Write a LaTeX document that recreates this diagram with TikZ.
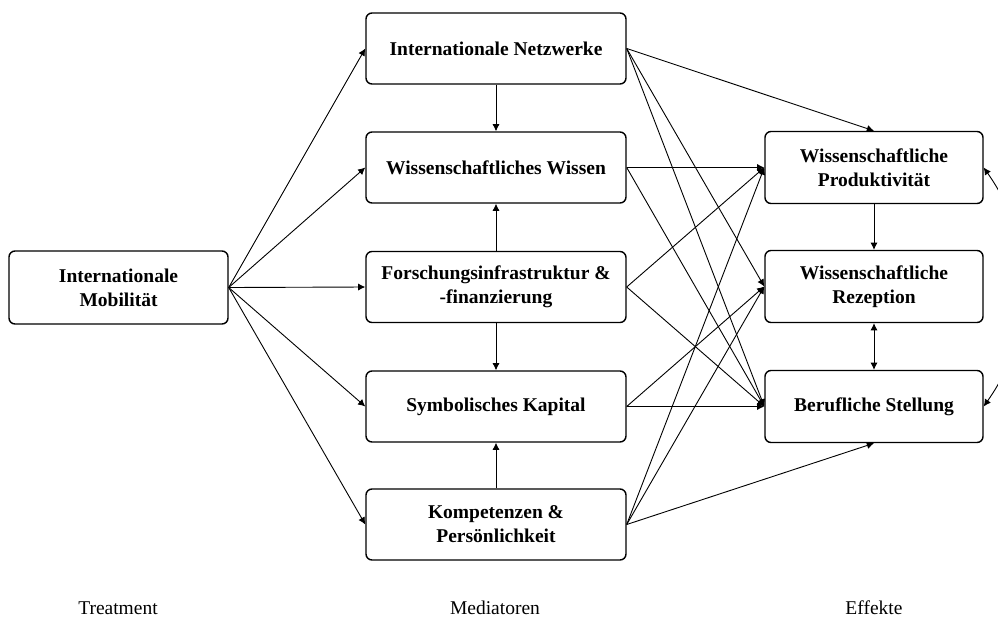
\documentclass[tikz,border=0pt]{standalone}
\usepackage{fontspec}
\setmainfont{Liberation Serif}
\usetikzlibrary{arrows.meta}

\tikzset{
  caja/.style={draw, line width=0.7pt, rounded corners=3pt, align=center,
    inner sep=2pt, font=\fontsize{9.75}{12}\selectfont\bfseries},
  medio/.style={caja, minimum width=130pt, minimum height=35.5pt},
  efecto/.style={caja, minimum width=109pt, minimum height=36pt},
  etiqueta/.style={anchor=base, inner sep=0pt, font=\fontsize{9.75}{12}\selectfont},
  flecha/.style={-{Latex[length=3.6pt,width=3.6pt]}, line width=0.45pt},
  doble/.style={{Latex[length=3.6pt,width=3.6pt]}-{Latex[length=3.6pt,width=3.6pt]}, line width=0.45pt}
}

\begin{document}
\begin{tikzpicture}[x=0.5pt,y=-0.5pt]
\useasboundingbox (0,0) rectangle (998,617);

% Tratamiento
\node[caja, minimum width=109.5pt, minimum height=36.5pt] (mob) at (118.5,287.5) {Internationale\\Mobilität};

% Mediadores, columna del centro
\node[medio] (netz) at (496,48.5) {Internationale Netzwerke};
\node[medio] (wissen) at (496,167.5) {Wissenschaftliches Wissen};
\node[medio] (infra) at (496,287) {Forschungsinfrastruktur \&\\-finanzierung};
\node[medio] (kapital) at (496,406.5) {Symbolisches Kapital};
\node[medio] (kompetenz) at (496,524.5) {Kompetenzen \&\\Persönlichkeit};

% Efectos, columna de la derecha
\node[efecto] (prod) at (874,167.5) {Wissenschaftliche\\Produktivität};
\node[efecto] (rez) at (874,286.5) {Wissenschaftliche\\Rezeption};
\node[efecto] (stellung) at (874,406.5) {Berufliche Stellung};

% Etiquetas de abajo
\node[etiqueta] (treat) at (118,614) {Treatment};
\node[etiqueta] (med) at (495,614) {Mediatoren};
\node[etiqueta] (eff) at (874,614) {Effekte};

% Del tratamiento a los mediadores
\foreach \m in {netz,wissen,infra,kapital,kompetenz}
  \draw[flecha] (mob.east) -- (\m.west);

% Entre los mediadores
\draw[flecha] (netz.south) -- (wissen.north);
\draw[flecha] (infra.north) -- (wissen.south);
\draw[flecha] (infra.south) -- (kapital.north);
\draw[flecha] (kompetenz.north) -- (kapital.south);

% De los mediadores a los efectos
\draw[flecha] (netz.east) -- (prod.north);
\draw[flecha] (netz.east) -- (rez.west);
\draw[flecha] (netz.east) -- (stellung.west);
\draw[flecha] (wissen.east) -- (prod.west);
\draw[flecha] (wissen.east) -- (stellung.west);
\draw[flecha] (infra.east) -- (prod.west);
\draw[flecha] (infra.east) -- (stellung.west);
\draw[flecha] (kapital.east) -- (rez.west);
\draw[flecha] (kapital.east) -- (stellung.west);
\draw[flecha] (kompetenz.east) -- (prod.west);
\draw[flecha] (kompetenz.east) -- (rez.west);
\draw[flecha] (kompetenz.east) -- (stellung.south);

% Entre los efectos
\draw[flecha] (prod.south) -- (rez.north);
\draw[doble] (rez.south) -- (stellung.north);
\draw[doble] (prod.east) to[bend left=35] (stellung.east);
\end{tikzpicture}
\end{document}
